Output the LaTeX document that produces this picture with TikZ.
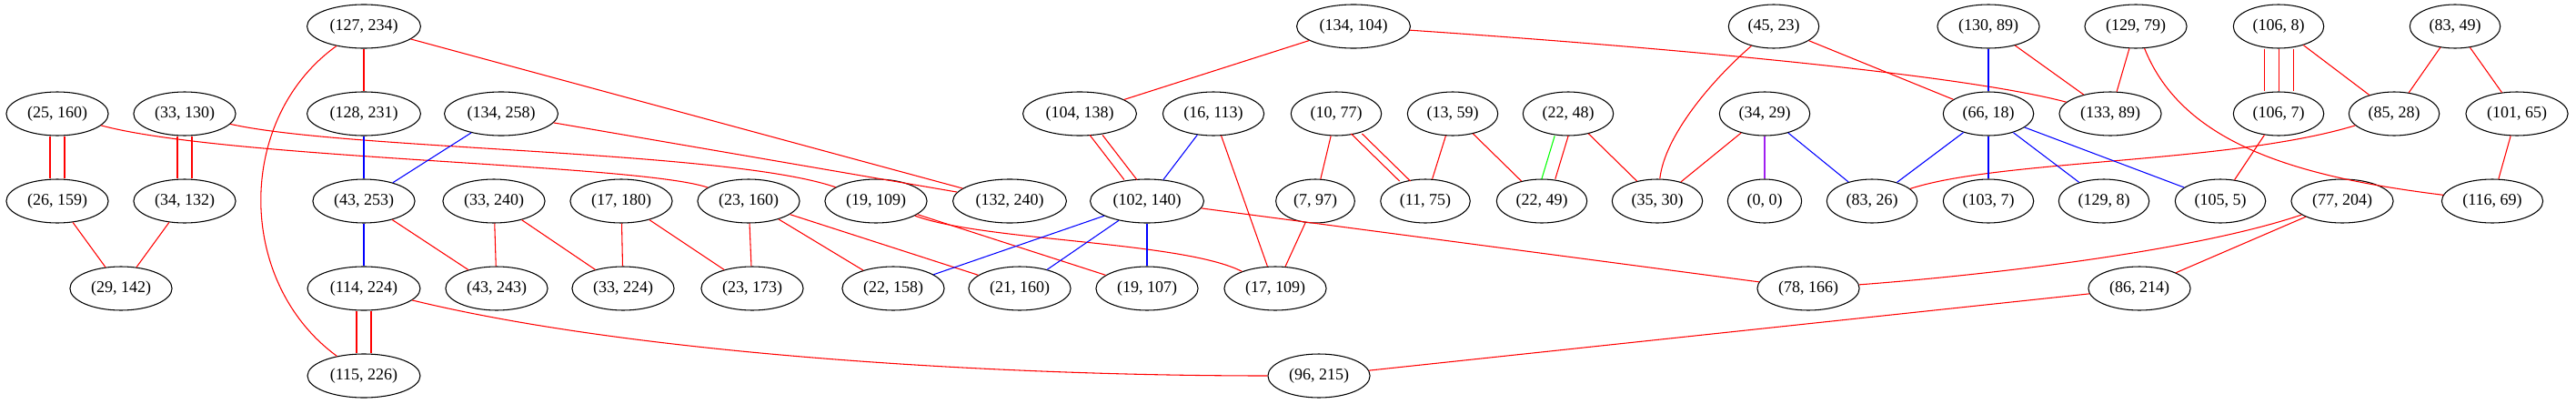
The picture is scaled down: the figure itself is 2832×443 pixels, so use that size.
\documentclass[tikz,border=0pt]{standalone}
\usepackage{fontspec}
\setmainfont{Liberation Serif}
\usetikzlibrary{shapes.geometric}
\definecolor{gvpurple}{HTML}{A020F0}
\definecolor{gvgreen}{HTML}{00FF00}
\begin{document}
\begin{tikzpicture}[x=0.75pt,y=-0.75pt,
  nd/.style={ellipse, draw, line width=0.8pt, inner xsep=5pt, inner ysep=2pt,
    minimum height=36pt, minimum width=61pt, font=\fontsize{13.5}{16}\selectfont},
  edge/.style={line width=0.8pt},
  redge/.style={edge, red},
  bedge/.style={edge, blue},
  gedge/.style={edge, gvgreen},
  pedge/.style={edge, gvpurple},
  lsh/.style={transform canvas={xshift=-#1}},
  rsh/.style={transform canvas={xshift=#1}}]
\useasboundingbox (0,0) rectangle (2832,443);
% row 1
\node[nd] (n127x234) at (400,29) {(127, 234)};
\node[nd] (n134x104) at (1488,29) {(134, 104)};
\node[nd] (n45x23) at (1950,29) {(45, 23)};
\node[nd] (n130x89) at (2186,29) {(130, 89)};
\node[nd] (n129x79) at (2348,29) {(129, 79)};
\node[nd] (n106x8) at (2505,29) {(106, 8)};
\node[nd] (n83x49) at (2699,29) {(83, 49)};
% row 2
\node[nd] (n25x160) at (63,125) {(25, 160)};
\node[nd] (n33x130) at (203,125) {(33, 130)};
\node[nd] (n128x231) at (400,125) {(128, 231)};
\node[nd] (n134x258) at (551,125) {(134, 258)};
\node[nd] (n104x138) at (1187,125) {(104, 138)};
\node[nd] (n16x113) at (1334,125) {(16, 113)};
\node[nd] (n10x77) at (1469,125) {(10, 77)};
\node[nd] (n13x59) at (1597,125) {(13, 59)};
\node[nd] (n22x48) at (1724,125) {(22, 48)};
\node[nd] (n34x29) at (1940,125) {(34, 29)};
\node[nd] (n66x18) at (2186,125) {(66, 18)};
\node[nd] (n133x89) at (2320,125) {(133, 89)};
\node[nd] (n106x7) at (2505,125) {(106, 7)};
\node[nd] (n85x28) at (2632,125) {(85, 28)};
\node[nd] (n101x65) at (2767,125) {(101, 65)};
% row 3
\node[nd] (n26x159) at (63,221) {(26, 159)};
\node[nd] (n34x132) at (203,221) {(34, 132)};
\node[nd] (n43x253) at (400,221) {(43, 253)};
\node[nd] (n33x240) at (543,221) {(33, 240)};
\node[nd] (n17x180) at (683,221) {(17, 180)};
\node[nd] (n23x160) at (823,221) {(23, 160)};
\node[nd] (n19x109) at (963,221) {(19, 109)};
\node[nd] (n132x240) at (1110,221) {(132, 240)};
\node[nd] (n102x140) at (1261,221) {(102, 140)};
\node[nd] (n7x97) at (1446,221) {(7, 97)};
\node[nd] (n11x75) at (1567,221) {(11, 75)};
\node[nd] (n22x49) at (1695,221) {(22, 49)};
\node[nd] (n35x30) at (1822,221) {(35, 30)};
\node[nd] (n0x0) at (1940,221) {(0, 0)};
\node[nd] (n83x26) at (2058,221) {(83, 26)};
\node[nd] (n103x7) at (2186,221) {(103, 7)};
\node[nd] (n129x8) at (2313,221) {(129, 8)};
\node[nd] (n105x5) at (2441,221) {(105, 5)};
\node[nd] (n77x204) at (2575,221) {(77, 204)};
\node[nd] (n116x69) at (2740,221) {(116, 69)};
% row 4
\node[nd] (n29x142) at (133,317) {(29, 142)};
\node[nd] (n114x224) at (400,317) {(114, 224)};
\node[nd] (n43x243) at (546,317) {(43, 243)};
\node[nd] (n33x224) at (685,317) {(33, 224)};
\node[nd] (n23x173) at (827,317) {(23, 173)};
\node[nd] (n22x158) at (982,317) {(22, 158)};
\node[nd] (n21x160) at (1121,317) {(21, 160)};
\node[nd] (n19x107) at (1261,317) {(19, 107)};
\node[nd] (n17x109) at (1402,317) {(17, 109)};
\node[nd] (n78x166) at (1988,317) {(78, 166)};
\node[nd] (n86x214) at (2352,317) {(86, 214)};
% row 5
\node[nd] (n115x226) at (400,413) {(115, 226)};
\node[nd] (n96x215) at (1450,413) {(96, 215)};

% edges
\draw[redge] (n127x234) -- (n128x231);
\draw[redge] (n127x234) .. controls (259,130) and (259,310) .. (n115x226);
\draw[redge] (n127x234) -- (n132x240);
\draw[redge, lsh=6pt] (n25x160) -- (n26x159);
\draw[redge, rsh=6pt] (n25x160) -- (n26x159);
\draw[redge, lsh=6pt] (n33x130) -- (n34x132);
\draw[redge, rsh=6pt] (n33x130) -- (n34x132);
\draw[redge] (n26x159) -- (n29x142);
\draw[redge] (n34x132) -- (n29x142);
\draw[redge] (n25x160) .. controls (250,175) and (700,180) .. (n23x160);
\draw[redge] (n33x130) .. controls (380,165) and (800,165) .. (n19x109);
\draw[redge] (n134x258) -- (n132x240);
\draw[bedge] (n128x231) -- (n43x253);
\draw[bedge] (n134x258) -- (n43x253);
\draw[bedge] (n43x253) -- (n114x224);
\draw[redge] (n43x253) -- (n43x243);
\draw[redge] (n33x240) -- (n43x243);
\draw[redge] (n33x240) -- (n33x224);
\draw[redge] (n17x180) -- (n33x224);
\draw[redge] (n17x180) -- (n23x173);
\draw[redge, lsh=6pt] (n114x224) -- (n115x226);
\draw[redge, rsh=6pt] (n114x224) -- (n115x226);
\draw[redge] (n114x224) .. controls (700,390) and (1100,413) .. (n96x215);
\draw[redge] (n23x160) -- (n23x173);
\draw[redge] (n23x160) -- (n22x158);
\draw[redge] (n23x160) -- (n21x160);
\draw[redge] (n19x109) -- (n19x107);
\draw[redge] (n19x109) .. controls (1080,265) and (1300,265) .. (n17x109);
\draw[bedge] (n102x140) -- (n22x158);
\draw[bedge] (n102x140) -- (n21x160);
\draw[bedge] (n102x140) -- (n19x107);
\draw[redge] (n102x140) -- (n78x166);
\draw[redge, lsh=5.25pt] (n104x138) -- (n102x140);
\draw[redge, rsh=5.25pt] (n104x138) -- (n102x140);
\draw[bedge] (n16x113) -- (n102x140);
\draw[redge] (n16x113) -- (n17x109);
\draw[redge] (n134x104) -- (n104x138);
\draw[redge] (n7x97) -- (n17x109);
\draw[redge] (n134x104) .. controls (1800,50) and (2150,80) .. (n133x89);
\draw[redge] (n45x23) .. controls (1880,90) and (1830,150) .. (n35x30);
\draw[redge] (n45x23) -- (n66x18);
\draw[redge] (n10x77) -- (n7x97);
\draw[redge, lsh=4.5pt] (n10x77) -- (n11x75);
\draw[redge, rsh=4.5pt] (n10x77) -- (n11x75);
\draw[redge] (n13x59) -- (n11x75);
\draw[redge] (n13x59) -- (n22x49);
\draw[gedge, lsh=5.6pt] (n22x48) -- (n22x49);
\draw[redge, rsh=5.6pt] (n22x48) -- (n22x49);
\draw[redge] (n22x48) -- (n35x30);
\draw[redge] (n34x29) -- (n35x30);
\draw[pedge] (n34x29) -- (n0x0);
\draw[bedge] (n34x29) -- (n83x26);
\draw[bedge] (n66x18) -- (n83x26);
\draw[redge] (n85x28) .. controls (2450,180) and (2200,175) .. (n83x26);
\draw[redge] (n77x204) .. controls (2400,280) and (2150,305) .. (n78x166);
\draw[redge] (n96x215) -- (n86x214);
\draw[bedge] (n130x89) -- (n66x18);
\draw[redge] (n130x89) -- (n133x89);
\draw[redge] (n129x79) -- (n133x89);
\draw[redge] (n129x79) .. controls (2400,160) and (2530,195) .. (n116x69);
\draw[redge, lsh=12pt] (n106x8) -- (n106x7);
\draw[redge] (n106x8) -- (n106x7);
\draw[redge, rsh=12pt] (n106x8) -- (n106x7);
\draw[redge] (n106x8) -- (n85x28);
\draw[redge] (n83x49) -- (n85x28);
\draw[redge] (n83x49) -- (n101x65);
\draw[redge] (n101x65) -- (n116x69);
\draw[bedge] (n66x18) -- (n103x7);
\draw[bedge] (n66x18) -- (n129x8);
\draw[bedge] (n66x18) -- (n105x5);
\draw[redge] (n106x7) -- (n105x5);
\draw[redge] (n77x204) -- (n86x214);
\end{tikzpicture}
\end{document}
